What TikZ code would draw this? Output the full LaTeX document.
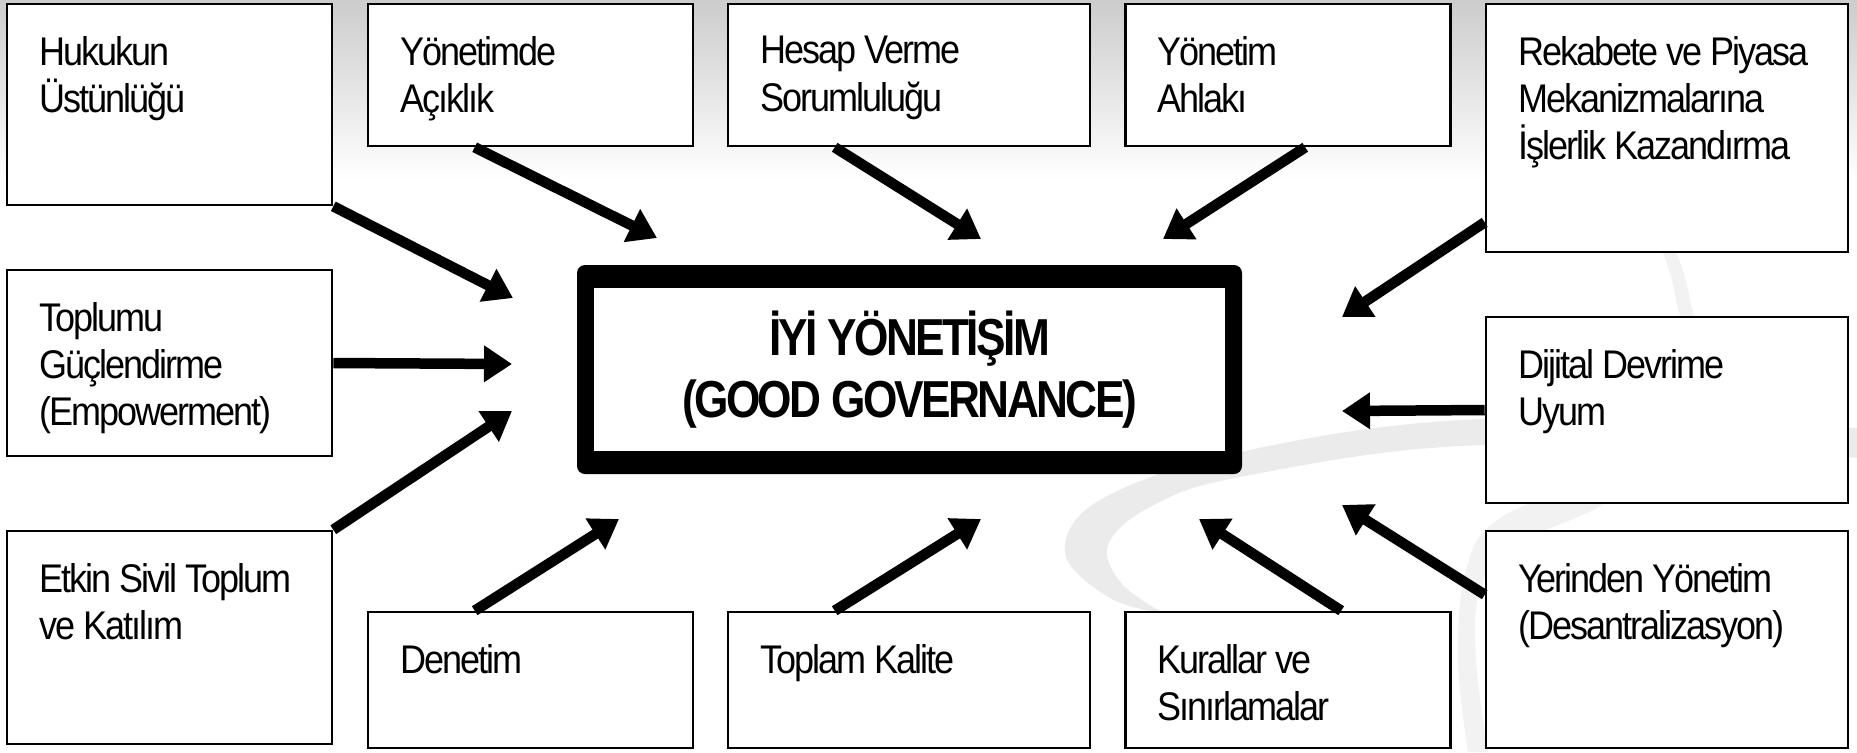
\documentclass[tikz,border=0pt]{standalone}
\usepackage{fontspec}
\setmainfont{Liberation Sans}
\newfontfamily\kutufont{Liberation Sans}[FakeStretch=0.9, LetterSpace=-5]
\newfontfamily\baslikfont{Liberation Sans}[FakeStretch=0.85, LetterSpace=-5]
\usetikzlibrary{calc,arrows.meta}

\begin{document}
\begin{tikzpicture}[x=0.5pt,y=-0.5pt,
    kutu/.style={draw, line width=1.3pt, fill=white, inner sep=0pt},
    dar/.style={kutu, minimum width=162.5pt},
    genis/.style={kutu, minimum width=181pt},
    metin/.style={anchor=north west, inner xsep=16.5pt, inner ysep=16.5pt, align=left,
        font=\kutufont\fontsize{20pt}{23.7pt}\selectfont},
    merkez/.style={fill=black, rounded corners=4pt, minimum width=332.5pt, minimum height=104.5pt,
        inner sep=0pt, align=center, font=\baslikfont\bfseries\fontsize{26pt}{31pt}\selectfont,
        path picture={\fill[white, sharp corners] ($(path picture bounding box.north west)+(17,23)$)
            rectangle ($(path picture bounding box.south east)+(-17,-23)$);}},
    ok/.style={line width=5.25pt, -{Triangle[length=14pt,width=17.5pt]}},
    swoosh/.style={fill=black!8}]
\useasboundingbox (0,0) rectangle (1857,752);
% background
\fill[white] (0,0) rectangle (1857,752);
\shade[top color=black!20, bottom color=white] (0,0) rectangle (1857,180);
\fill[swoosh] plot[smooth, tension=0.6] coordinates {(1860,428) (1483,419) (1240,452) (1100,500) (1065,553) (1110,598) (1165,614)}
    -- plot[smooth, tension=0.6] coordinates {(1165,614) (1122,584) (1108,545) (1150,507) (1240,477) (1483,445) (1860,458)} -- cycle;
\fill[swoosh, fill=black!5] plot[smooth, tension=0.6] coordinates {(1640,215) (1663,253) (1676,300) (1678,350) (1620,460) (1500,518) (1466,570) (1458,660) (1468,752)}
    -- plot[smooth, tension=0.6] coordinates {(1488,752) (1476,660) (1480,590) (1515,545) (1630,485) (1694,360) (1690,300) (1675,250) (1650,215)} -- cycle;

% centre
\node[merkez] (iyi) at (909.5,369.5) {İYİ YÖNETİŞİM\\(GOOD GOVERNANCE)};

% top row
\node[dar, minimum height=100.5pt, label={[metin]north west:{Hukukun\\Üstünlüğü}}] (huk) at (169.5,104.5) {};
\node[dar, minimum height=71pt, label={[metin]north west:{Yönetimde\\Açıklık}}] (acik) at (530.5,75) {};
\node[genis, minimum height=71pt, label={[metin]north west:{Hesap Verme\\Sorumluluğu}}] (hesap) at (909,75) {};
\node[dar, minimum height=71pt, label={[metin]north west:{Yönetim\\Ahlakı}}] (ahlak) at (1288,75) {};
\node[genis, minimum height=124pt, label={[metin]north west:{Rekabete ve Piyasa\\Mekanizmalarına\\İşlerlik Kazandırma}}] (rekabet) at (1667,128) {};

% sides
\node[dar, minimum height=93pt, label={[metin]north west:{Toplumu\\Güçlendirme\\(Empowerment)}}] (toplum) at (169.5,363) {};
\node[dar, minimum height=106.5pt, label={[metin]north west:{Etkin Sivil Toplum\\ve Katılım}}] (etkin) at (169.5,637.5) {};
\node[genis, minimum height=93pt, label={[metin]north west:{Dijital Devrime\\Uyum}}] (dijital) at (1667,410) {};
\node[genis, minimum height=108.5pt, label={[metin]north west:{Yerinden Yönetim\\(Desantralizasyon)}}] (yerinden) at (1667,639.5) {};

% bottom row
\node[dar, minimum height=68pt, label={[metin]north west:{Denetim}}] (denetim) at (530.5,680) {};
\node[genis, minimum height=68pt, label={[metin]north west:{Toplam Kalite}}] (kalite) at (909,680) {};
\node[dar, minimum height=68pt, label={[metin]north west:{Kurallar ve\\Sınırlamalar}}] (kurallar) at (1288,680) {};

% arrow tips
\coordinate (u1) at (513,298);
\coordinate (u2) at (657,238);
\coordinate (u3) at (981,239);
\coordinate (u4) at (1163,239);
\coordinate (u5) at (1342,317);
\coordinate (u6) at (512,364);
\coordinate (u7) at (512,411);
\coordinate (u8) at (1342,411);
\coordinate (u9) at (1342,505);
\coordinate (u10) at (619,519);
\coordinate (u11) at (981,519);
\coordinate (u12) at (1199,519);

\draw[ok] (huk.south east) -- (u1);
\draw[ok] ($(acik.south west)+(108,0)$) -- (u2);
\draw[ok] ($(hesap.south west)+(108,0)$) -- (u3);
\draw[ok] ($(ahlak.south west)+(181,0)$) -- (u4);
\draw[ok] ($(rekabet.south west)+(0,-31)$) -- (u5);
\draw[ok] (toplum.east) -- (u6);
\draw[ok] (etkin.north east) -- (u7);
\draw[ok] (dijital.west) -- (u8);
\draw[ok] ($(yerinden.north west)+(0,65)$) -- (u9);
\draw[ok] ($(denetim.north west)+(108,0)$) -- (u10);
\draw[ok] ($(kalite.north west)+(108,0)$) -- (u11);
\draw[ok] ($(kurallar.north west)+(217,0)$) -- (u12);
\end{tikzpicture}
\end{document}
